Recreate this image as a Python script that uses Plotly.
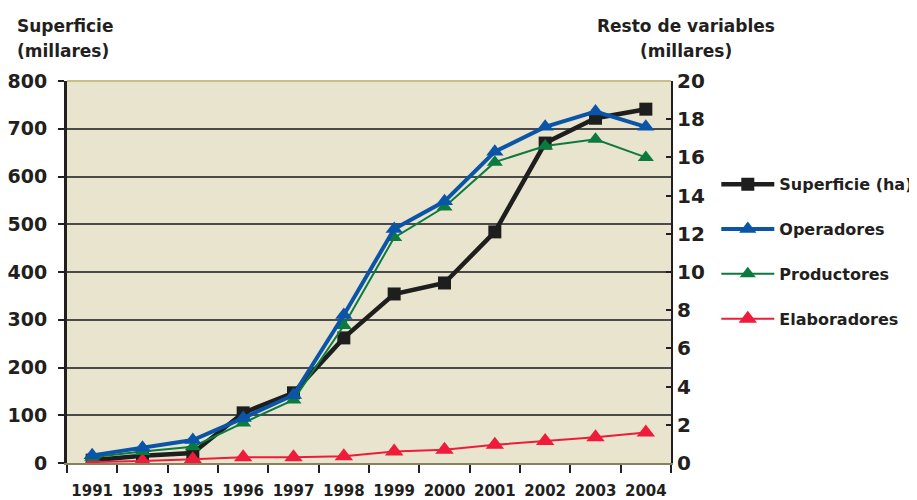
import plotly.graph_objects as go

years = ["1991", "1993", "1995", "1996", "1997", "1998", "1999", "2000", "2001", "2002", "2003", "2004"]
superficie = [6, 15, 21, 105, 147, 262, 354, 377, 484, 670, 722, 741]
operadores = [0.4, 0.8, 1.2, 2.35, 3.56, 7.75, 12.25, 13.7, 16.3, 17.6, 18.4, 17.6]
productores = [0.3, 0.6, 0.85, 2.1, 3.3, 7.2, 11.8, 13.4, 15.75, 16.6, 16.95, 16.0]
elaboradores = [0.05, 0.1, 0.2, 0.3, 0.3, 0.35, 0.6, 0.7, 0.95, 1.15, 1.35, 1.6]

FONT = "DejaVu Sans"
fig = go.Figure()

fig.add_trace(go.Scatter(x=years, y=elaboradores, name="Elaboradores", yaxis="y2",
                         mode="lines+markers", line=dict(color="#EE1C3A", width=2),
                         marker=dict(symbol="triangle-up", size=16, color="#EE1C3A"),
                         legendgroup="d", legendrank=4))
fig.add_trace(go.Scatter(x=years, y=productores, name="Productores", yaxis="y2",
                         mode="lines+markers", line=dict(color="#0B7A3E", width=2),
                         marker=dict(symbol="triangle-up", size=14, color="#0B7A3E"),
                         legendgroup="c", legendrank=3))
fig.add_trace(go.Scatter(x=years, y=superficie, name="Superficie (ha)", yaxis="y",
                         mode="lines+markers", line=dict(color="#1E1E1E", width=4.5),
                         marker=dict(symbol="square", size=13, color="#1E1E1E"),
                         legendgroup="a", legendrank=1))
fig.add_trace(go.Scatter(x=years, y=operadores, name="Operadores", yaxis="y2",
                         mode="lines+markers", line=dict(color="#0A55A8", width=4),
                         marker=dict(symbol="triangle-up", size=15, color="#0A55A8"),
                         legendgroup="b", legendrank=2))

fig.update_layout(
    width=917, height=500,
    margin=dict(l=59, r=254, t=73, b=45, autoexpand=False),
    paper_bgcolor="white", plot_bgcolor="#E9E4CD",
    font=dict(family=FONT, color="#231F20", size=17, weight="bold"),
    showlegend=True,
    legend=dict(x=1.075, y=0.774, xanchor="left", yanchor="top",
                font=dict(size=16, family=FONT, weight="bold"),
                tracegroupgap=21, itemwidth=53, bgcolor="rgba(0,0,0,0)"),
    xaxis=dict(type="category", tickson="boundaries", ticks="outside", ticklen=8,
               tickwidth=2, tickcolor="#231F20", showline=True, linecolor="#888060",
               linewidth=2, showgrid=False, tickfont=dict(size=15, weight="bold"),
               tickangle=0, ticklabelstandoff=13, range=[-0.5, 11.5], automargin=False),
    yaxis=dict(range=[0, 800], dtick=100, ticks="outside", ticklen=6, tickwidth=2,
               tickcolor="#231F20", showline=True, linecolor="#231F20", linewidth=3,
               showgrid=True, gridcolor="#4A4A4A", gridwidth=1.5, zeroline=False,
               tickfont=dict(size=19, weight="bold"), ticklabelstandoff=7,
               automargin=False),
    yaxis2=dict(range=[0, 20], dtick=2, overlaying="y", side="right", ticks="inside",
                ticklen=5, tickwidth=2, tickcolor="#231F20", showline=True,
                linecolor="#231F20", linewidth=2, showgrid=False, zeroline=False,
                tickfont=dict(size=20, weight="bold"), automargin=False),
    annotations=[
        dict(text="Superficie", xref="paper", yref="paper", x=-0.086, y=1.145,
             xanchor="left", yanchor="middle", showarrow=False,
             font=dict(size=17, weight="bold")),
        dict(text="(millares)", xref="paper", yref="paper", x=-0.086, y=1.078,
             xanchor="left", yanchor="middle", showarrow=False,
             font=dict(size=17, weight="bold")),
        dict(text="Resto de variables", xref="paper", yref="paper", x=1.025, y=1.145,
             xanchor="center", yanchor="middle", showarrow=False,
             font=dict(size=17, weight="bold")),
        dict(text="(millares)", xref="paper", yref="paper", x=1.025, y=1.078,
             xanchor="center", yanchor="middle", showarrow=False,
             font=dict(size=17, weight="bold")),
    ],
    shapes=[dict(type="line", xref="paper", yref="paper", x0=0, x1=1, y0=1, y1=1,
                 line=dict(color="#C8BE88", width=2))],
)

fig.write_html("out.html")
